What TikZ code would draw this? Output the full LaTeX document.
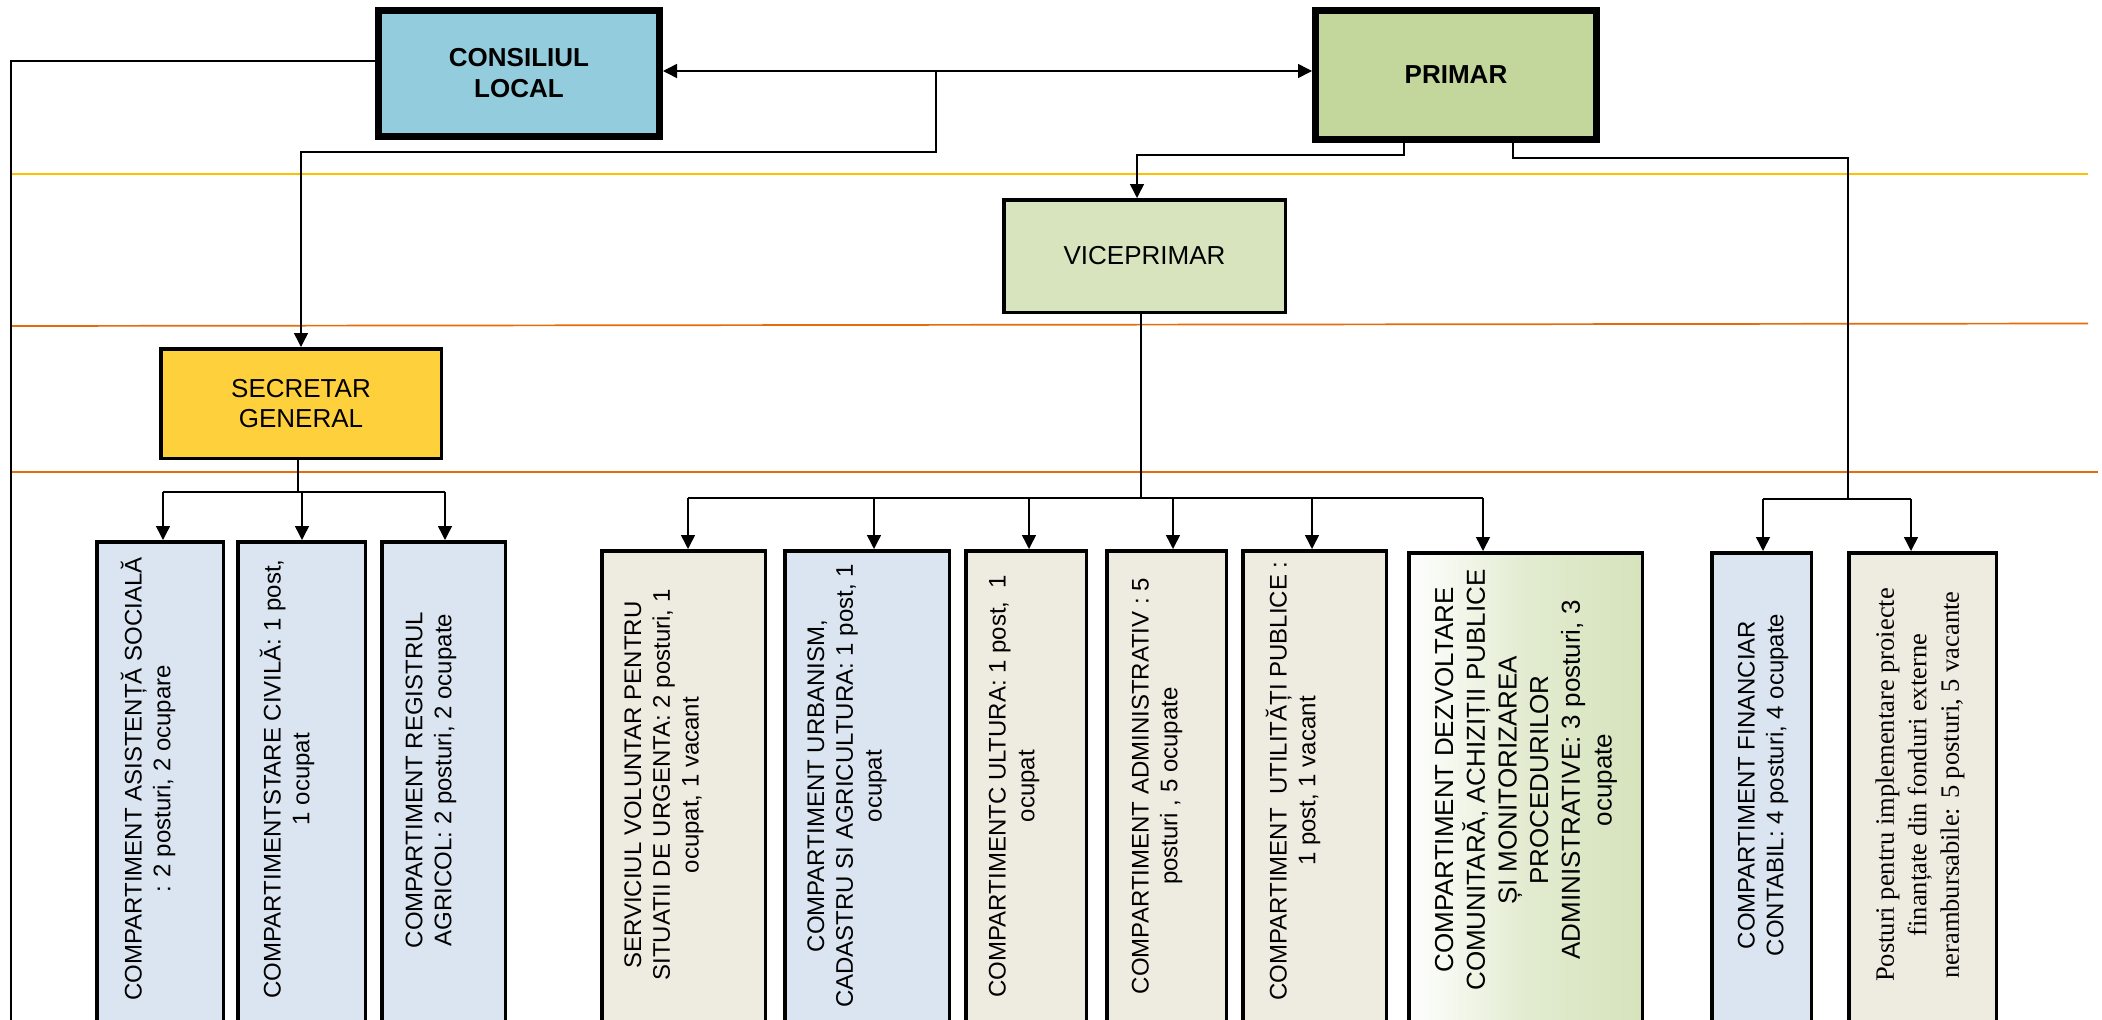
\documentclass[tikz,border=0pt]{standalone}
\usepackage{fontspec}
\setmainfont{Liberation Sans}
\newfontfamily\timesf{Liberation Serif}
\usetikzlibrary{arrows.meta}
\definecolor{clcol}{RGB}{147,205,221}
\definecolor{prcol}{RGB}{195,214,155}
\definecolor{vpcol}{RGB}{215,228,189}
\definecolor{sgcol}{RGB}{254,208,60}
\definecolor{bluecol}{RGB}{219,229,241}
\definecolor{beigecol}{RGB}{238,236,225}
\definecolor{dezcol}{RGB}{214,227,188}
\definecolor{yelcol}{RGB}{255,192,0}
\definecolor{orcol}{RGB}{228,108,10}
\begin{document}
\begin{tikzpicture}[x=1pt,y=-1pt,
  conn/.style={line width=1.5pt,draw=black},
  arr/.style={conn,-{Triangle[length=14pt,width=14pt]}},
  dbl/.style={conn,{Triangle[length=14pt,width=14pt]}-{Triangle[length=14pt,width=14pt]}},
  topbox/.style={draw=black,line width=7pt,inner sep=0pt,align=center,font=\fontsize{26}{31}\selectfont\bfseries},
  midbox/.style={draw=black,line width=3.5pt,inner sep=0pt,align=center,font=\fontsize{26}{30}\selectfont},
  lowbox/.style={draw=black,line width=3.5pt,inner sep=0pt,anchor=north},
  vtext/.style={rotate=90,align=center,inner sep=0pt,font=\fontsize{24}{28.8}\selectfont},
  band/.style={line width=1.7pt}
]
\useasboundingbox (0,0) rectangle (2102,1020);
\clip (0,0) rectangle (2102,1020);

% coloured separator lines
\draw[band,yelcol] (11,174) -- (2088,174);
\draw[band,orcol] (11,326) -- (2088,323.5);
\draw[band,orcol] (11,472) -- (2098,472);

% top level
\node[topbox,fill=clcol,minimum width=281pt,minimum height=126pt] (cl) at (519,73.5) {CONSILIUL\\LOCAL};
\node[topbox,fill=prcol,minimum width=281pt,minimum height=129pt] (pr) at (1456,75) {PRIMAR};
\node[midbox,fill=vpcol,minimum width=281.5pt,minimum height=112.5pt] (vp) at (1144.5,256) {VICEPRIMAR};
\node[midbox,fill=sgcol,minimum width=280.5pt,minimum height=109.5pt] (sg) at (301,403.5) {SECRETAR\\GENERAL};

% low boxes
\node[lowbox,fill=bluecol,minimum width=126.5pt,minimum height=510pt] (b1) at (160,540) {};
\node[lowbox,fill=bluecol,minimum width=127.5pt,minimum height=510pt] (b2) at (301.5,540) {};
\node[lowbox,fill=bluecol,minimum width=123.5pt,minimum height=510pt] (b3) at (443.5,540) {};
\node[lowbox,fill=beigecol,minimum width=163.5pt,minimum height=500pt] (s1) at (683.5,549) {};
\node[lowbox,fill=bluecol,minimum width=164.5pt,minimum height=500pt] (s2) at (867,549) {};
\node[lowbox,fill=beigecol,minimum width=120.5pt,minimum height=500pt] (s3) at (1026,549) {};
\node[lowbox,fill=beigecol,minimum width=119.5pt,minimum height=500pt] (s4) at (1166.5,549) {};
\node[lowbox,fill=beigecol,minimum width=143.5pt,minimum height=500pt] (s5) at (1314.5,549) {};
\node[lowbox,left color=white,right color=dezcol,middle color=dezcol!70!white,minimum width=233.5pt,minimum height=500pt] (s6) at (1525.5,551) {};
\node[lowbox,fill=bluecol,minimum width=99.5pt,minimum height=500pt] (f1) at (1761.5,551) {};
\node[lowbox,fill=beigecol,minimum width=147.5pt,minimum height=500pt] (f2) at (1922.5,551) {};

% texts of low boxes
\node[vtext] (t1) at (148,779) {COMPARTIMENT ASISTENȚĂ SOCIALĂ\\: 2 posturi, 2 ocupare};
\node[vtext] (t2) at (287,779) {COMPARTIMENTSTARE CIVILĂ: 1 post,\\1 ocupat};
\node[vtext] (t3) at (431,780) {COMPARTIMENT REGISTRUL\\AGRICOL: 2 posturi, 2 ocupate};
\node[vtext] (u1) at (664,785) {SERVICIUL VOLUNTAR PENTRU\\SITUATII DE URGENTA: 2 posturi, 1\\ocupat, 1 vacant};
\node[vtext] (u2) at (847,786) {COMPARTIMENT URBANISM,\\CADASTRU SI AGRICULTURA: 1 post, 1\\ocupat};
\node[vtext] (u3) at (1014,786) {COMPARTIMENTC ULTURA: 1 post,\ \ 1\\ocupat};
\node[vtext] (u4) at (1157,786) {COMPARTIMENT ADMINISTRATIV : 5\\posturi , 5 ocupate};
\node[vtext] (u5) at (1293,781) {COMPARTIMENT\ \ UTILITĂȚI PUBLICE :\\1 post, 1 vacant};
\node[vtext,font=\fontsize{26}{31.7}\selectfont] (u6) at (1526,780) {COMPARTIMENT DEZVOLTARE\\COMUNITARĂ, ACHIZIȚII PUBLICE\\ȘI MONITORIZAREA\\PROCEDURILOR\\ADMINISTRATIVE: 3 posturi, 3\\ocupate};
\node[vtext] (v1) at (1763,785) {COMPARTIMENT FINANCIAR\\CONTABIL: 4 posturi, 4 ocupate};
\node[vtext,font=\timesf\fontsize{26.5}{32.5}\selectfont] (v2) at (1920,785) {Posturi pentru implementare proiecte\\finanțate din fonduri externe\\nerambursabile: 5 posturi, 5 vacante};

% connectors: top level
\coordinate (j1) at (936,71);
\coordinate (j2) at (936,152);
\draw[dbl] (cl.east |- j1) -- (pr.west |- j1);
\draw[arr] (j1) -- (j2) -| (sg.north);

\coordinate (lc) at (11,61);
\coordinate (lcb) at (11,1040);
\draw[conn,line width=1.7pt] (cl.west |- lc) -- (lc) -- (lcb);

\coordinate (p1) at (1404,155);
\coordinate (pv) at (1137,155);
\draw[arr] (pr.south -| p1) -- (p1) -- (pv) -- (pv |- vp.north);

\coordinate (p2) at (1513,158);
\coordinate (p3) at (1848,158);
\coordinate (rb) at (1848,499);
\draw[conn] (pr.south -| p2) -- (p2) -- (p3) -- (rb);

% secretar bus
\coordinate (sb) at (298,492);
\coordinate (sb1) at (163,492);
\coordinate (sb2) at (302,492);
\coordinate (sb3) at (445,492);
\draw[conn] (sg.south -| sb) -- (sb);
\draw[conn] (sb1) -- (sb3);
\draw[arr] (sb1) -- (sb1 |- b1.north);
\draw[arr] (sb2) -- (sb2 |- b2.north);
\draw[arr] (sb3) -- (sb3 |- b3.north);

% viceprimar bus
\coordinate (vb) at (1141,498);
\coordinate (vb1) at (688,498);
\coordinate (vb2) at (874,498);
\coordinate (vb3) at (1029,498);
\coordinate (vb4) at (1173,498);
\coordinate (vb5) at (1312,498);
\coordinate (vb6) at (1483,498);
\draw[conn] (vp.south -| vb) -- (vb);
\draw[conn] (vb1) -- (vb6);
\draw[arr] (vb1) -- (vb1 |- s1.north);
\draw[arr] (vb2) -- (vb2 |- s2.north);
\draw[arr] (vb3) -- (vb3 |- s3.north);
\draw[arr] (vb4) -- (vb4 |- s4.north);
\draw[arr] (vb5) -- (vb5 |- s5.north);
\draw[arr] (vb6) -- (vb6 |- s6.north);

% primar right bus
\coordinate (rb1) at (1763,499);
\coordinate (rb2) at (1911,499);
\draw[conn] (rb1) -- (rb2);
\draw[arr] (rb1) -- (rb1 |- f1.north);
\draw[arr] (rb2) -- (rb2 |- f2.north);
\end{tikzpicture}
\end{document}
